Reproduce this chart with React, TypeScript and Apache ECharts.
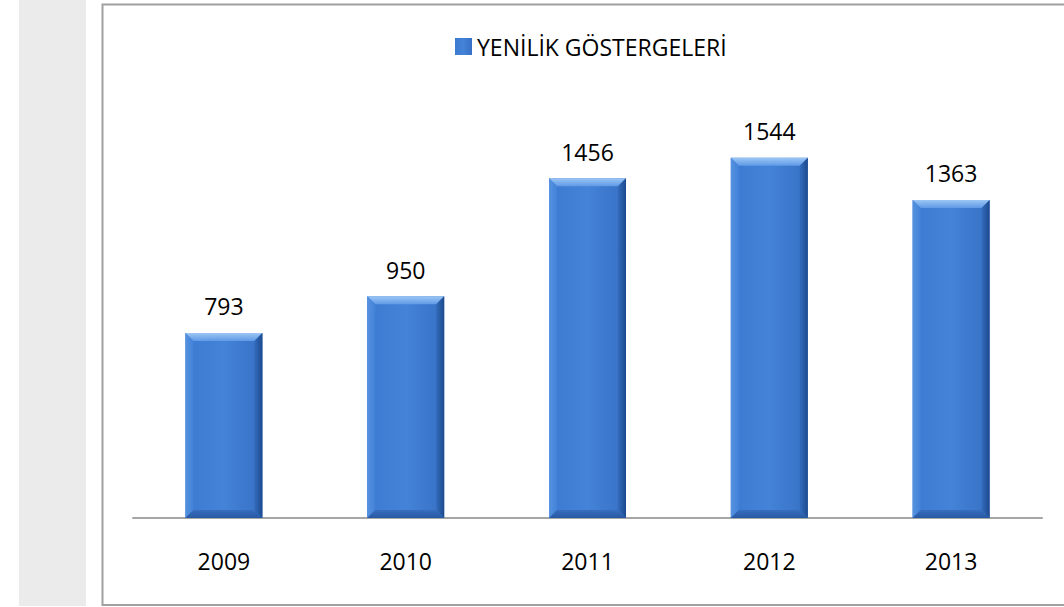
import React, { useEffect, useRef } from "react";
import * as echarts from "echarts";

const years = ["2009", "2010", "2011", "2012", "2013"];
const values = [793, 950, 1456, 1544, 1363];
const seriesName = "YENİLİK GÖSTERGELERİ";
const axisMax = 1800;

const FONT = "'Open Sans', 'Noto Sans', sans-serif";
const BAR_W = 77;

export default function App() {
  const ref = useRef<HTMLDivElement>(null);
  useEffect(() => {
    if (!ref.current) return;
    const chart = echarts.init(ref.current, undefined, { renderer: "svg" });
    const bodyColor = new echarts.graphic.LinearGradient(0, 0, 1, 0, [
      { offset: 0, color: "#3b7ad0" },
      { offset: 0.5, color: "#4483d8" },
      { offset: 1, color: "#3670c4" },
    ]);
    chart.setOption({
      animation: false,
      backgroundColor: "#ffffff",
      graphic: [
        { type: "rect", shape: { x: 19, y: 0, width: 67, height: 606 }, style: { fill: "#ebebeb" }, z: -10 },
        {
          type: "rect",
          shape: { x: 102.5, y: 4.5, width: 1000, height: 600.5 },
          style: { fill: "none", stroke: "#a0a0a0", lineWidth: 2 },
          z: -5,
        },
      ],
      legend: {
        data: [seriesName],
        left: 450,
        top: 30,
        icon: "rect",
        itemWidth: 17,
        itemHeight: 17,
        itemGap: 5,
        textStyle: { fontFamily: FONT, fontSize: 23, color: "#000" },
      },
      grid: { left: 133, right: 22, top: 98, bottom: 89 },
      xAxis: {
        type: "category",
        data: years,
        axisLine: { lineStyle: { color: "#a6a6a6", width: 2 } },
        axisTick: { show: false },
        axisLabel: { fontFamily: FONT, fontSize: 23, color: "#000", margin: 31 },
      },
      yAxis: { type: "value", min: 0, max: axisMax, show: false, splitLine: { show: false } },
      series: [
        {
          name: seriesName,
          type: "bar",
          data: values,
          barWidth: BAR_W,
          itemStyle: { color: bodyColor },
          label: {
            show: true,
            position: "top",
            distance: 15,
            fontFamily: FONT,
            fontSize: 23,
            color: "#000",
          },
          z: 2,
        },
        {
          name: "bevel",
          type: "custom",
          silent: true,
          z: 3,
          data: values.map((v, i) => [i, v]),
          renderItem: (params: any, api: any) => {
            const topPt = api.coord([api.value(0), api.value(1)]);
            const basePt = api.coord([api.value(0), 0]);
            const l = topPt[0] - BAR_W / 2;
            const r = l + BAR_W;
            const t = topPt[1];
            const btm = basePt[1];
            const b = 8;
            return {
              type: "group",
              children: [
                {
                  type: "polygon",
                  shape: { points: [[l, t], [r, t], [r - b, t + b], [l + b, t + b]] },
                  style: {
                    fill: new echarts.graphic.LinearGradient(0, 0, 0, 1, [
                      { offset: 0, color: "#9cc6f5" },
                      { offset: 1, color: "#5f9ae6" },
                    ]),
                  },
                },
                {
                  type: "polygon",
                  shape: { points: [[l, t], [l + b, t + b], [l + b, btm - b], [l, btm]] },
                  style: {
                    fill: new echarts.graphic.LinearGradient(0, 0, 1, 0, [
                      { offset: 0, color: "#5692e0" },
                      { offset: 1, color: "#4282d8" },
                    ]),
                  },
                },
                {
                  type: "polygon",
                  shape: { points: [[r, t], [r, btm], [r - b, btm - b], [r - b, t + b]] },
                  style: {
                    fill: new echarts.graphic.LinearGradient(0, 0, 1, 0, [
                      { offset: 0, color: "#336cbc" },
                      { offset: 1, color: "#1d4a8e" },
                    ]),
                  },
                },
                {
                  type: "polygon",
                  shape: { points: [[l, btm], [l + b, btm - b], [r - b, btm - b], [r, btm]] },
                  style: {
                    fill: new echarts.graphic.LinearGradient(0, 0, 0, 1, [
                      { offset: 0, color: "#376ebe" },
                      { offset: 1, color: "#2858a2" },
                    ]),
                  },
                },
              ],
            };
          },
        },
      ],
    });
    return () => chart.dispose();
  }, []);
  return (
    <div
      ref={ref}
      style={{ position: "fixed", left: 0, top: 0, width: 1064, height: 607 }}
    />
  );
}
